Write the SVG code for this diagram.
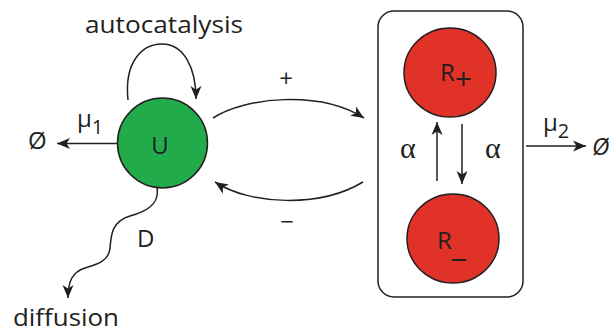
<svg xmlns="http://www.w3.org/2000/svg" width="609" height="332" viewBox="0 0 609 332">
<style>
.t{font-family:"Open Sans","Liberation Sans",sans-serif;fill:#231f20;font-size:24px}
.g{font-family:"Liberation Serif",serif;fill:#231f20;font-size:30px}
.c{fill:none;stroke:#231f20;stroke-width:1.5}
.node{stroke:#231f20;stroke-width:1.5}
</style>
<defs>
<marker id="ah" viewBox="-13 -6 14 12" refX="0" refY="0" markerWidth="14" markerHeight="12" markerUnits="userSpaceOnUse" orient="auto">
<path d="M0,0 L-13,-5.5 L-9.5,0 L-13,5.5 Z" fill="#231f20"/>
</marker>
</defs>
<rect x="0" y="0" width="609" height="332" fill="#fff"/>
<g id="connectors">
<path class="c" d="M128,100 C124,62 142,44 162,44 C184,44 196,68 196,99" marker-end="url(#ah)"/>
<path class="c" d="M213,118 C245,97 320,90 364,118" marker-end="url(#ah)"/>
<path class="c" d="M363,182 C320,208 250,205 215,182" marker-end="url(#ah)"/>
<path class="c" d="M117,143.5 L57,143.5" marker-end="url(#ah)"/>
<path class="c" d="M437,181 L437,122" marker-end="url(#ah)"/>
<path class="c" d="M462,124 L462,184" marker-end="url(#ah)"/>
<path class="c" d="M526,146 L586,146" marker-end="url(#ah)"/>
<path class="c" d="M157,188 C160,205 145,212 130,216 C112,221 111,235 110,248 C109,262 95,265 85,268 C72,272 68,282 68,298" marker-end="url(#ah)"/>
</g>
<g id="labels">
<text class="t" x="85" y="33" textLength="158" lengthAdjust="spacingAndGlyphs">autocatalysis</text>
<text class="t" x="286" y="87" text-anchor="middle" font-size="26">+</text>
<text class="t" x="287" y="230" text-anchor="middle" font-size="26">−</text>
<text class="t" x="77" y="127" font-size="22">μ<tspan font-size="20" dy="7">1</tspan></text>
<text class="t" x="543" y="131" font-size="22">μ<tspan font-size="20" dy="7">2</tspan></text>
<text class="t" x="28" y="149" font-size="24">Ø</text>
<text class="t" x="592" y="155" font-size="24" font-style="italic">Ø</text>
<text class="t" x="137" y="247" font-size="26">D</text>
<text class="t" x="13" y="326" textLength="106" lengthAdjust="spacingAndGlyphs">diffusion</text>
<text class="g" x="400" y="158">α</text>
<text class="g" x="485" y="158">α</text>
</g>
<g id="U">
<circle class="node" cx="162.5" cy="143" r="45" fill="#22ab4b"/>
<text class="t" x="160" y="154" text-anchor="middle">U</text>
</g>
<g id="R-group">
<rect x="378" y="11" width="145" height="286" rx="16" fill="none" stroke="#231f20" stroke-width="1.5"/>
</g>
<g id="Rplus">
<ellipse class="node" cx="450" cy="72.5" rx="46" ry="44.5" fill="#e03226"/>
<text class="t" x="440" y="81" font-size="26">R<tspan dy="8" font-size="30">+</tspan></text>
</g>
<g id="Rminus">
<ellipse class="node" cx="453" cy="238.5" rx="46" ry="44.5" fill="#e03226"/>
<text class="t" x="437" y="249" font-size="26">R<tspan dy="7" font-size="32">_</tspan></text>
</g>
</svg>
